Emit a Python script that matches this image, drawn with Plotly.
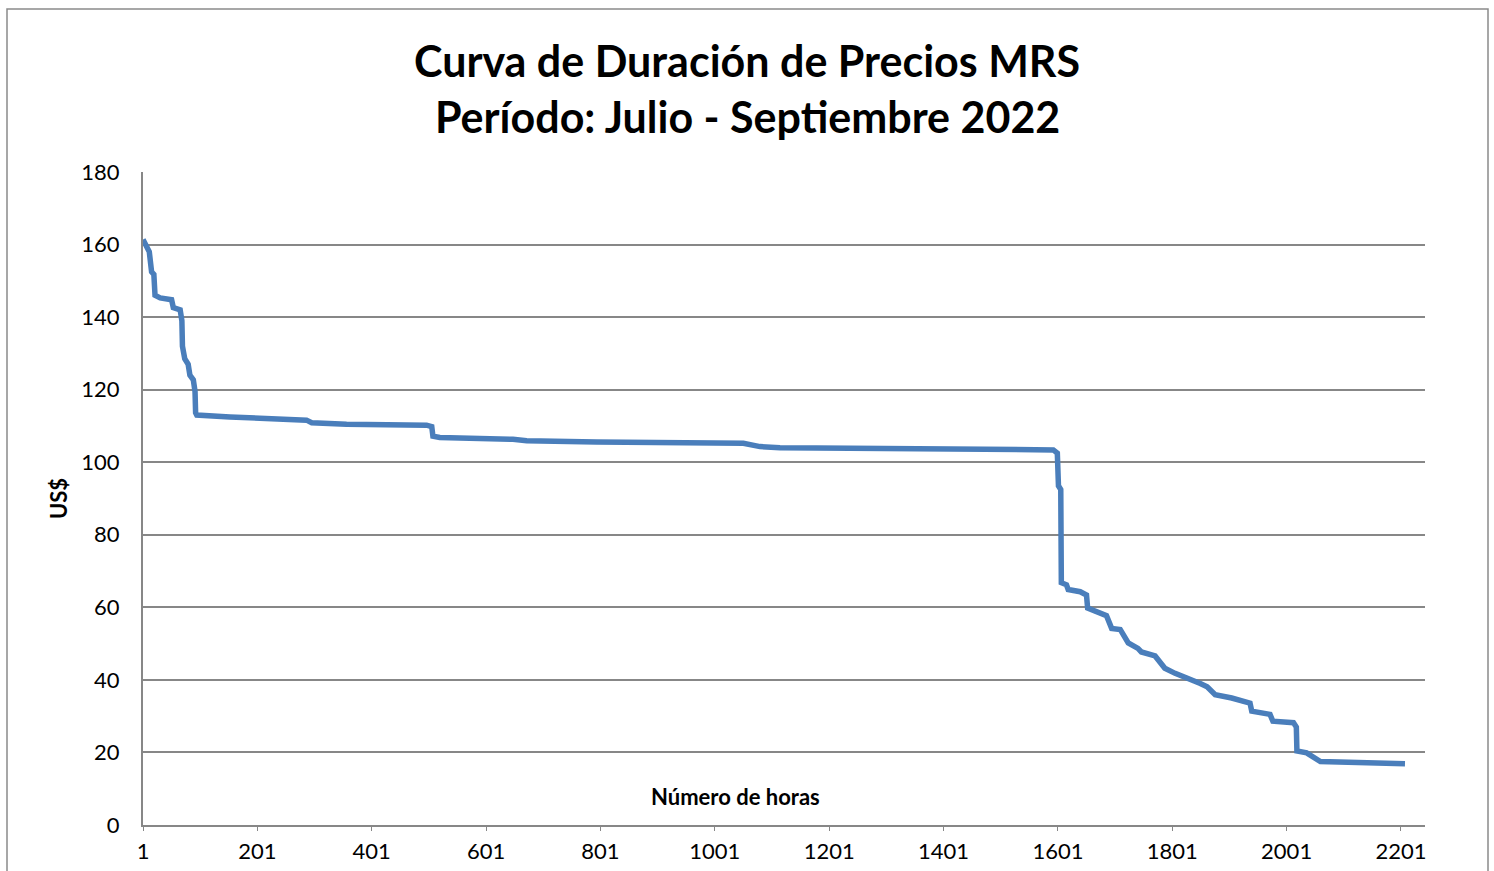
import plotly.graph_objects as go

# Duration-curve breakpoints (hour rank, price US$)
horas = [1, 4, 7, 12, 16, 20, 22, 31, 51, 54, 66, 69, 70, 74, 80, 83, 89, 92, 93, 95,
         153, 241, 287, 296, 357, 497, 506, 508, 520, 648, 672, 794, 975, 1051, 1080,
         1115, 1179, 1383, 1593, 1600, 1602, 1606, 1607, 1616, 1619, 1640, 1651, 1653,
         1669, 1686, 1695, 1710, 1724, 1741, 1747, 1771, 1788, 1806, 1850, 1862, 1876,
         1905, 1937, 1940, 1972, 1977, 2013, 2018, 2019, 2036, 2060, 2112, 2208]
precios = [161.4, 160.5, 159.0, 158.0, 152.5, 151.8, 146.0, 145.3, 144.8, 142.6, 142.0,
           139.0, 132.0, 128.5, 127.0, 124.0, 122.7, 119.5, 113.6, 113.0,
           112.5, 112.1, 111.6, 110.9, 110.5, 110.2, 109.8, 107.2, 106.8, 106.3, 105.9,
           105.6, 105.4, 105.2, 104.3, 104.0, 103.9, 103.6, 103.4, 102.5, 93.5, 92.5,
           66.8, 66.2, 64.9, 64.3, 63.4, 59.8, 58.7, 57.7, 54.2, 53.9, 50.2, 48.7, 47.7,
           46.6, 43.2, 41.8, 39.0, 38.1, 35.9, 35.0, 33.6, 31.4, 30.5, 28.6, 28.2, 27.0,
           20.4, 19.9, 17.5, 17.2, 16.9]

x_ticks = [1, 201, 401, 601, 801, 1001, 1201, 1401, 1601, 1801, 2001, 2201]
y_ticks = [0, 20, 40, 60, 80, 100, 120, 140, 160, 180]

titulo_1 = "Curva de Duración de Precios MRS"
titulo_2 = "Período: Julio - Septiembre 2022"
x_titulo = "Número de horas"
y_titulo = "US$"

GRID = "#878787"
FONT = "Lato, Carlito, Calibri, sans-serif"
L, T, PW, PH = 143, 172, 1282, 653


def px_x(p):
    return (p - L) / PW


def px_y(p):
    return (T + PH - p) / PH


fig = go.Figure()
fig.add_trace(go.Scatter(
    x=horas, y=precios, mode="lines",
    line=dict(color="#4A7EBB", width=5.5, shape="linear"),
    hoverinfo="x+y", showlegend=False,
))

fig.update_layout(
    width=1494, height=871,
    margin=dict(l=L, r=1494 - L - PW, t=T, b=871 - T - PH, autoexpand=False),
    paper_bgcolor="white", plot_bgcolor="white",
    font=dict(family=FONT, color="black", size=22),
    xaxis=dict(range=[1, 2243], tickmode="array", tickvals=x_ticks,
               ticktext=[str(t) for t in x_ticks], automargin=False,
               showgrid=False, zeroline=False,
               showline=True, linecolor=GRID, linewidth=2,
               ticks="outside", ticklen=4, tickcolor=GRID,
               tickfont=dict(family=FONT, size=22), ticklabelstandoff=2),
    yaxis=dict(range=[0, 180], tickmode="array", tickvals=y_ticks,
               automargin=False,
               showgrid=True, gridcolor=GRID, gridwidth=1.6,
               zeroline=False, showline=True, linecolor=GRID, linewidth=2,
               ticks="", tickfont=dict(family=FONT, size=22),
               ticklabelstandoff=17,
               title=dict(text="<b>" + y_titulo + "</b>", standoff=8,
                          font=dict(family=FONT, size=22))),
    annotations=[
        dict(text="<b>" + titulo_1 + "</b>", xref="paper", yref="paper",
             x=px_x(747), y=px_y(60), xanchor="center", yanchor="middle",
             showarrow=False, font=dict(family=FONT, size=43, color="black")),
        dict(text="<b>" + titulo_2 + "</b>", xref="paper", yref="paper",
             x=px_x(747), y=px_y(116), xanchor="center", yanchor="middle",
             showarrow=False, font=dict(family=FONT, size=43, color="black")),
        dict(text="<b>" + x_titulo + "</b>", xref="paper", yref="paper",
             x=px_x(735), y=px_y(796), xanchor="center", yanchor="middle",
             showarrow=False, font=dict(family=FONT, size=22, color="black")),
    ],
    shapes=[dict(type="rect", xref="paper", yref="paper",
                 x0=px_x(7), x1=px_x(1488), y0=px_y(900), y1=px_y(9),
                 line=dict(color="#8A8A8A", width=1.5), layer="below")],
)

fig.write_html("out.html", config={"displayModeBar": False},
               post_script="document.body.style.margin='0';document.body.style.overflow='hidden';")
